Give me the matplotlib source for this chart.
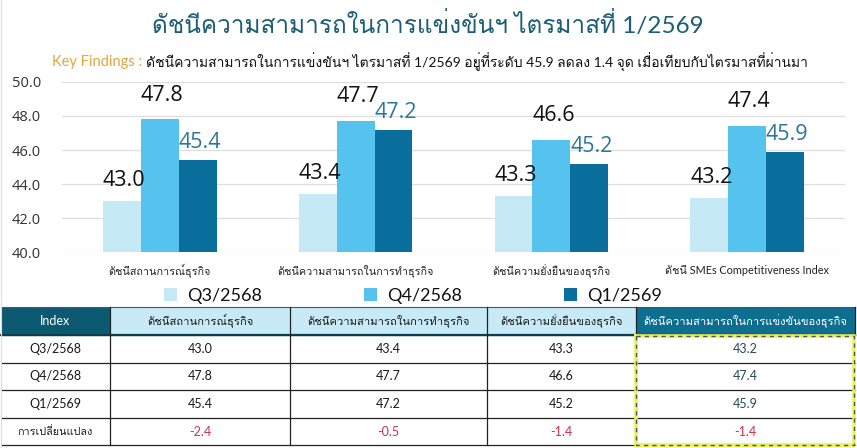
import matplotlib
matplotlib.use("Agg")
import matplotlib.pyplot as plt
from matplotlib.patches import Rectangle
import numpy as np

MIX = ["Lato", "Loma", "DejaVu Sans"]
plt.rcParams['font.family'] = MIX

# ---------------- data ----------------
title = "ดัชนีความสามารถในการแข่งขันฯ ไตรมาสที่ 1/2569"
key_label = "Key Findings :"
key_text = "ดัชนีความสามารถในการแข่งขันฯ ไตรมาสที่ 1/2569 อยู่ที่ระดับ 45.9 ลดลง 1.4 จุด เมื่อเทียบกับไตรมาสที่ผ่านมา"
categories = ["ดัชนีสถานการณ์ธุรกิจ", "ดัชนีความสามารถในการทำธุรกิจ",
              "ดัชนีความยั่งยืนของธุรกิจ", "ดัชนี SMEs Competitiveness Index"]
series_names = ["Q3/2568", "Q4/2568", "Q1/2569"]
q3_2568 = [43.0, 43.4, 43.3, 43.2]
q4_2568 = [47.8, 47.7, 46.6, 47.4]
q1_2569 = [45.4, 47.2, 45.2, 45.9]
change = [-2.4, -0.5, -1.4, -1.4]
yticks = [40.0, 42.0, 44.0, 46.0, 48.0, 50.0]
table_header = ["Index", "ดัชนีสถานการณ์ธุรกิจ", "ดัชนีความสามารถในการทำธุรกิจ",
                "ดัชนีความยั่งยืนของธุรกิจ", "ดัชนีความสามารถในการแข่งขันของธุรกิจ"]
row_labels = ["Q3/2568", "Q4/2568", "Q1/2569", "การเปลี่ยนแปลง"]

# ---------------- style ----------------
W, H = 857, 448
c_light, c_mid, c_dark = "#c6e9f6", "#55c3ee", "#0a6f9c"
teal_title = "#1c5f74"
bar_colors = [c_light, c_mid, c_dark]
label_colors = ["#111111", "#111111", "#2a7796"]
label_offsets = [7, 10, 5]
NUM = ["Open Sans", "DejaVu Sans"]

fig = plt.figure(figsize=(W / 100, H / 100), dpi=100)
fig.patch.set_facecolor("white")

fig.text(428 / W, 1 - 24 / H, title, ha="center", va="center",
         fontsize=17.5, color=teal_title)
t1 = fig.text(52 / W, 1 - 62 / H, key_label, ha="left", va="center",
              fontsize=10.5, color="#e3a540")
fig.canvas.draw()
bb = t1.get_window_extent()
fig.text((bb.x1 + 4) / W, 1 - 62 / H, key_text, ha="left", va="center",
         fontsize=10, color="#111111")

# ---------------- bar chart ----------------
ax = fig.add_axes([62 / W, 1 - 252 / H, (845 - 62) / W, (252 - 82) / H])
x = np.arange(len(categories))
bw = 0.193
series = [q3_2568, q4_2568, q1_2569]
for i, (vals, col) in enumerate(zip(series, bar_colors)):
    xs = x + (i - 1) * bw
    ax.bar(xs, np.array(vals) - 40.0, bw, bottom=40.0, color=col,
           label=series_names[i], zorder=2)
    for xi, v in zip(xs, vals):
        ax.annotate(f"{v:.1f}", (xi, v), xytext=(1.5, label_offsets[i]),
                    textcoords="offset points", ha="center", va="bottom",
                    fontsize=15.5, color=label_colors[i], family=NUM)
ax.set_ylim(40, 50)
ax.set_xlim(-0.5, len(categories) - 0.5)
ax.set_yticks(yticks)
ax.set_yticklabels([f"{v:.1f}" for v in yticks], fontsize=10.5, color="#333333",
                   family=NUM)
ax.set_xticks(x)
ax.set_xticklabels(categories, fontsize=7.8, color="#222222")
ax.tick_params(axis="both", length=0)
ax.tick_params(axis="x", pad=9)
ax.tick_params(axis="y", pad=15)
ax.grid(axis="y", color="#dedede", linewidth=0.9, zorder=0)
for s in ax.spines.values():
    s.set_visible(False)

# legend: measure text width, then set spacing so entries sit ~200 px apart
leg_size = 13
leg_kw = dict(loc="center", ncol=3, frameon=False, handlelength=0.75,
              handleheight=0.75, handletextpad=0.55,
              prop={"family": MIX, "size": leg_size})
leg = fig.legend(bbox_to_anchor=(410 / W, 1 - 296 / H), columnspacing=5, **leg_kw)
fig.canvas.draw()
tw = leg.get_texts()[0].get_window_extent().width
em = leg_size * 100 / 72
cs = (200 - tw) / em - 0.75 - 0.55
leg.remove()
leg = fig.legend(bbox_to_anchor=(413 / W, 1 - 296 / H), columnspacing=cs, **leg_kw)
for t in leg.get_texts():
    t.set_color("#111111")

# ---------------- table ----------------
tx = fig.add_axes([0, 0, 1, 1])
tx.set_xlim(0, W)
tx.set_ylim(H, 0)
tx.axis("off")
col_edges = [1, 110, 290, 487, 636, 855]
row_edges = [307, 335, 363, 390, 418, 445]
header_fills = ["#0c5a72", "#c8eaf6", "#c8eaf6", "#c8eaf6", "#0e6e90"]
header_text_colors = ["white", "#1a1a1a", "#1a1a1a", "#1a1a1a", "white"]
for j in range(5):
    tx.add_patch(Rectangle((col_edges[j], row_edges[0]), col_edges[j + 1] - col_edges[j],
                           row_edges[1] - row_edges[0], facecolor=header_fills[j],
                           edgecolor="none"))
    tx.text((col_edges[j] + col_edges[j + 1]) / 2, (row_edges[0] + row_edges[1]) / 2,
            table_header[j], ha="center", va="center",
            fontsize=9 if j == 0 else 8.1, color=header_text_colors[j])
rows = [q3_2568, q4_2568, q1_2569, change]
for r in range(4):
    yc = (row_edges[r + 1] + row_edges[r + 2]) / 2
    tx.text((col_edges[0] + col_edges[1]) / 2, yc, row_labels[r], ha="center",
            va="center", fontsize=9 if r < 3 else 7.8, color="#1a1a1a")
    for j in range(4):
        v = rows[r][j]
        if r == 3:
            colr = "#cc3344"
        elif j == 3:
            colr = "#24495a"
        else:
            colr = "#1a1a1a"
        tx.text((col_edges[j + 1] + col_edges[j + 2]) / 2, yc, f"{v:.1f}",
                ha="center", va="center", fontsize=9, color=colr)
# grid lines
for yy in row_edges[1:]:
    tx.plot([col_edges[0], col_edges[-1]], [yy, yy], color="#222222", lw=0.9)
tx.plot([col_edges[0], col_edges[-1]], [row_edges[0], row_edges[0]], color="#555555", lw=0.8)
tx.plot([col_edges[0], col_edges[-1]], [row_edges[1], row_edges[1]], color="#0b3e50", lw=1.6)
for xx in col_edges[1:-1]:
    tx.plot([xx, xx], [row_edges[0], row_edges[-1]], color="#222222", lw=0.9)
tx.plot([col_edges[-1], col_edges[-1]], [row_edges[0], row_edges[1]], color="#222222", lw=0.9)
# highlight dashed box
bx0, bx1, by0, by1 = col_edges[4], col_edges[5] - 1, row_edges[1] + 1, row_edges[-1]
xs_box = [bx0, bx1, bx1, bx0, bx0]
ys_box = [by0, by0, by1, by1, by0]
tx.plot(xs_box, ys_box, color="#e9f25c", lw=2.6, solid_joinstyle="miter")
tx.plot(xs_box, ys_box, color="#555555", lw=1.0, ls=(0, (3, 3)))
# faint left page edge
tx.plot([1.5, 1.5], [0, H], color="#dddddd", lw=0.8)

fig.savefig("out.png", dpi=100, facecolor="white")
